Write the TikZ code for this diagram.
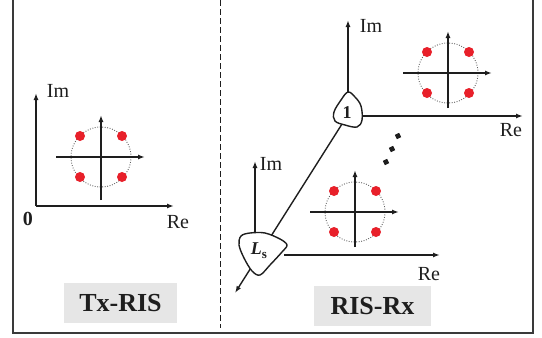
\documentclass[tikz,border=0pt]{standalone}
\usepackage{fontspec}
\setmainfont{Liberation Serif}
\usetikzlibrary{arrows.meta}
\definecolor{ink}{HTML}{1E1E1E}
\definecolor{framec}{HTML}{3A3A3A}
\definecolor{dotred}{HTML}{E8202A}
\definecolor{boxgray}{HTML}{E6E6E6}
\tikzset{
  axis/.style={draw=ink, line width=1.4pt, -{Latex[length=7pt,width=5pt]}},
  ring/.style={draw=ink!70, line width=0.9pt, dash pattern=on 0.9pt off 1.6pt},
  rdot/.style={fill=dotred},
  blob/.style={draw=ink, line width=1.4pt, fill=white},
  lbl/.style={text=ink, font=\fontsize{20}{22}\selectfont, inner sep=0pt},
  tag/.style={fill=boxgray, text=ink, font=\fontsize{26}{28}\selectfont\bfseries, minimum height=40pt, inner sep=0pt},
  pics/constel/.style={code={
    \draw[ring] (0,0) circle[radius=30];
    \draw[axis] (-45,0) -- (44,0);
    \draw[axis] (0,#1) -- (0,-42);
    \fill[rdot] (-21,-21) circle[radius=5];
    \fill[rdot] (21,-21) circle[radius=5];
    \fill[rdot] (-21,20) circle[radius=5];
    \fill[rdot] (21,20) circle[radius=5];
  }}
}
\begin{document}
\begin{tikzpicture}[x=1pt,y=-1pt]
\useasboundingbox (0,0) rectangle (542,338);
% frame
\draw[framec, line width=2.2pt] (13,-5) -- (13,333) -- (533,333) -- (533,-5);
\draw[ink, line width=1pt, dash pattern=on 6pt off 3pt] (220,0) -- (220,328);

% ---------- left panel ----------
\coordinate (o) at (36,206);
\coordinate (imtipL) at (36,93);
\coordinate (retipL) at (174,206);
\draw[axis] (o) -- (imtipL);
\draw[axis] (o) -- (retipL);
\node[lbl] (imL) at (58,91) {Im};
\node[lbl, font=\fontsize{20}{22}\selectfont\bfseries] (zeroL) at (28,219) {0};
\node[lbl] (reL) at (178,222) {Re};
\pic at (101,157) {constel=43};
\node[tag, minimum width=113pt] (tx) at (120.5,303) {Tx-RIS};

% ---------- right panel ----------
\coordinate (lnA) at (342,124);
\coordinate (lnB) at (235,293);
\draw[axis] (lnA) -- (lnB);

% blob 1
\draw[blob] plot[smooth cycle, tension=0.6] coordinates {(348,92) (341,100) (334,112) (335,121) (345,125) (357,127) (362,120) (361,106) (355,97)};
\node[text=ink, font=\fontsize{18}{18}\selectfont\bfseries, inner sep=0pt] (one) at (347,113) {1};
\coordinate (onetop) at (348,92);
\coordinate (oneright) at (362,116);
\coordinate (imtip1) at (348,20);
\coordinate (retip1) at (523,116);
\draw[axis] (onetop) -- (imtip1);
\draw[axis] (oneright) -- (retip1);
\node[lbl] (im1) at (371,26) {Im};
\node[lbl] (re1) at (511,130) {Re};
\pic at (448,73) {constel=35};

% dots
\foreach \p in {(398,136),(392,149),(386,162)}
  \fill[ink, rotate around={25:\p}] \p ++(-2.4,-2.4) rectangle ++(4.8,4.8);

% blob Ls
\draw[blob] plot[smooth cycle, tension=0.55] coordinates {(241,236) (250,233) (265,233) (280,239) (287,245) (282,252) (270,265) (260,275) (252,271) (244,258) (239,245)};
\node[text=ink, inner sep=0pt] (Ls) at (259,251) {\fontsize{18}{18}\selectfont\bfseries\itshape L\upshape\raisebox{-4pt}{\fontsize{13}{13}\selectfont\bfseries s}};
\coordinate (lstop) at (255,233);
\coordinate (lsright) at (284,255);
\coordinate (imtip2) at (255,161);
\coordinate (retip2) at (440,255);
\draw[axis] (lstop) -- (imtip2);
\draw[axis] (lsright) -- (retip2);
\node[lbl] (im2) at (271,164) {Im};
\node[lbl] (re2) at (429,274) {Re};
\pic at (355,212) {constel=35};
\node[tag, minimum width=117pt] (rx) at (372.5,306) {RIS-Rx};
\end{tikzpicture}
\end{document}
